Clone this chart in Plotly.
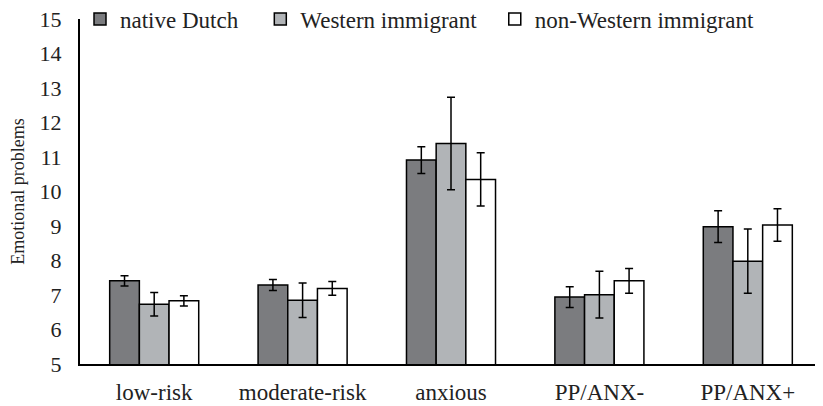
import plotly.graph_objects as go

categories = ["low-risk", "moderate-risk", "anxious", "PP/ANX-", "PP/ANX+"]

native_dutch = [7.41, 7.29, 10.91, 6.94, 8.98]
native_dutch_err = [0.15, 0.16, 0.39, 0.30, 0.46]

western = [6.73, 6.85, 11.39, 7.01, 7.98]
western_err = [0.34, 0.50, 1.34, 0.68, 0.93]

non_western = [6.83, 7.19, 10.35, 7.41, 9.03]
non_western_err = [0.15, 0.20, 0.77, 0.36, 0.47]

# name, values, errors, fill, legend id, legend x (paper)
series = [
    ("native Dutch", native_dutch, native_dutch_err, "#7b7c7f", "legend", 0.0),
    ("Western immigrant", western, western_err, "#b1b4b7", "legend2", 0.243),
    ("non-Western immigrant", non_western, non_western_err, "#ffffff", "legend3", 0.559),
]

FONT = "Liberation Serif, serif"

fig = go.Figure()
legends = {}
for name, vals, errs, color, leg, lx in series:
    fig.add_trace(
        go.Bar(
            x=categories,
            y=vals,
            name=name,
            legend=leg,
            marker=dict(color=color, line=dict(color="black", width=1.5)),
            error_y=dict(
                type="data", array=errs, color="black", thickness=1.5, width=4
            ),
        )
    )
    legends[leg] = dict(
        orientation="h",
        x=lx,
        xanchor="left",
        y=1.0,
        yanchor="middle",
        bgcolor="rgba(0,0,0,0)",
        font=dict(family=FONT, size=23, color="#222222"),
    )

# the page body adds an 8px offset, margins account for it
fig.update_layout(
    width=823,
    height=406,
    margin=dict(l=72, r=9, t=11, b=50, autoexpand=False),
    plot_bgcolor="white",
    paper_bgcolor="white",
    font=dict(family=FONT, size=21, color="#222222"),
    barmode="group",
    bargap=0.4,
    bargroupgap=0,
    showlegend=True,
    xaxis=dict(
        showline=True,
        linecolor="black",
        linewidth=2,
        showgrid=False,
        ticks="",
        tickfont=dict(family=FONT, size=23),
        ticklabelstandoff=6,
        ticklabeloverflow="allow",
    ),
    yaxis=dict(
        range=[5, 15],
        dtick=1,
        showline=True,
        linecolor="black",
        linewidth=2,
        showgrid=False,
        zeroline=False,
        ticks="",
        ticklabelstandoff=12,
        ticklabeloverflow="allow",
        tickfont=dict(family=FONT, size=22),
        title=dict(
            text="Emotional problems",
            font=dict(family=FONT, size=18),
            standoff=26,
        ),
    ),
    **legends,
)

fig.write_html("out.html")
